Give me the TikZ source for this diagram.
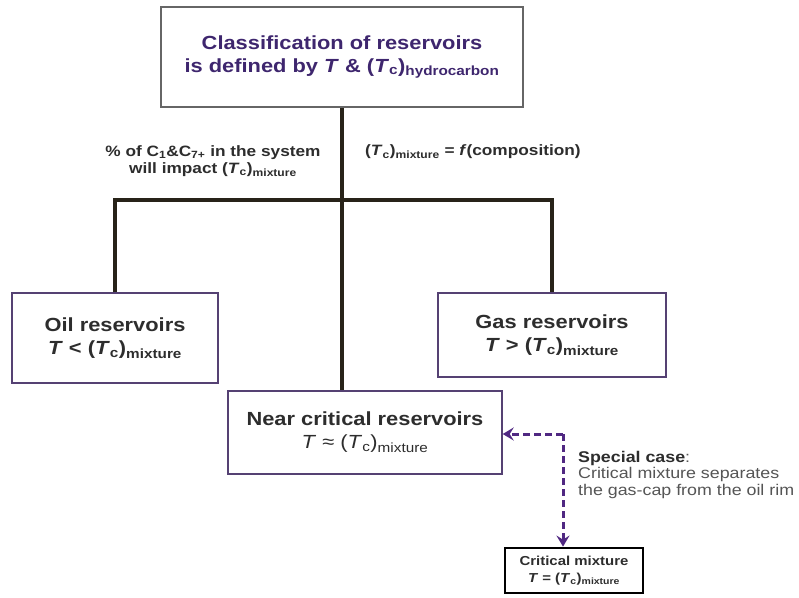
\documentclass[tikz,border=0pt]{standalone}
\usepackage{fontspec}
\setmainfont[FakeStretch=1.15]{Liberation Sans}
\usetikzlibrary{arrows.meta}
\definecolor{titlecol}{RGB}{62,38,110}
\definecolor{txtcol}{RGB}{45,45,45}
\definecolor{graytxt}{RGB}{85,85,85}
\definecolor{boxcol}{RGB}{85,65,115}
\definecolor{linecol}{RGB}{40,35,25}
\definecolor{dashcol}{RGB}{80,40,130}
\newcommand{\Tcsub}[1]{(\textit{T}\textsubscript{c})\textsubscript{#1}}
\begin{document}
\begin{tikzpicture}[x=1pt,y=-1pt,
  pbox/.style={draw=boxcol,line width=1.4pt,rectangle,align=center,inner sep=0pt,text=txtcol,font=\fontsize{19}{23}\selectfont\bfseries},
  conn/.style={draw=linecol,line width=3.6pt},
  dconn/.style={draw=dashcol,line width=3pt,dash pattern=on 7pt off 4pt},
  tip/.style={-{Stealth[length=11pt,width=13pt,inset=4pt]}},
  note/.style={align=center,text=txtcol,font=\fontsize{15}{17.5}\selectfont\bfseries,inner sep=0pt}]
\useasboundingbox (0,0) rectangle (799,597);
\fill[white] (0,0) rectangle (799,597);

\node[pbox,draw=gray!80!black,line width=1.8pt,text=titlecol,minimum width=362pt,minimum height=100pt] (top) at (342,57)
  {Classification of reservoirs\\is defined by \textit{T} \& \Tcsub{hydrocarbon}};
\node[pbox,minimum width=206pt,minimum height=90pt] (oil) at (115,338)
  {Oil reservoirs\\\textit{T} < \Tcsub{mixture}};
\node[pbox,minimum width=228pt,minimum height=84pt] (gas) at (552,335)
  {Gas reservoirs\\\textit{T} > \Tcsub{mixture}};
\node[pbox,minimum width=274pt,minimum height=83pt] (near) at (365,432.5)
  {Near critical reservoirs\\{\mdseries\textit{T} ≈ \Tcsub{mixture}}};
\node[pbox,draw=black,line width=2.8pt,minimum width=138pt,minimum height=45pt,font=\fontsize{13}{17}\selectfont\bfseries] (crit) at (574,570.5)
  {Critical mixture\\\textit{T} = \Tcsub{mixture}};

\node[note] (lnote) at (213,161) {\% of C\textsubscript{1}\&C\textsubscript{7+} in the system\\will impact \Tcsub{mixture}};
\node[note,anchor=west] (rnote) at (365,152) {\Tcsub{mixture} = \textit{f}(composition)};
\node[anchor=north west,align=left,inner sep=0pt,text=graytxt,font=\fontsize{15.5}{16.5}\selectfont] (spec) at (578,451)
  {{\bfseries\color{txtcol}Special case}:\\Critical mixture separates\\the gas-cap from the oil rim};

\coordinate (j) at (342,200);
\coordinate (c) at (563,434);
\draw[conn] (top.south) -- (top.south |- near.north);
\draw[conn] (oil.north) |- (j) -| (gas.north);
\draw[dconn,tip] (c) -- (near.east |- c);
\draw[dconn,tip] (c) -- (c |- crit.north);
\end{tikzpicture}
\end{document}
